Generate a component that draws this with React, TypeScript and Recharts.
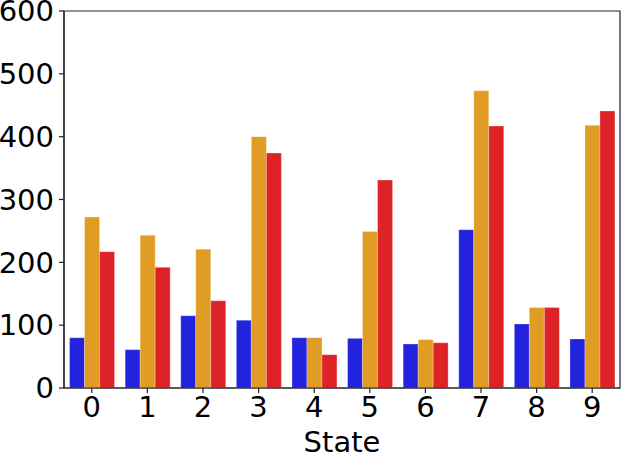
import React from "react";
import { BarChart, Bar, XAxis, YAxis, ReferenceArea } from "recharts";

const states = ["0", "1", "2", "3", "4", "5", "6", "7", "8", "9"];
const blueValues = [80, 61, 115, 108, 80, 79, 70, 252, 102, 78];
const orangeValues = [272, 243, 221, 400, 80, 249, 77, 473, 128, 418];
const redValues = [217, 192, 139, 374, 53, 331, 72, 417, 128, 441];
const yTicks = [0, 100, 200, 300, 400, 500, 600];

const data = states.map((s, i) => ({
  state: s,
  blue: blueValues[i],
  orange: orangeValues[i],
  red: redValues[i],
}));

const FONT = "'DejaVu Sans', sans-serif";
const tickStyle = { fontSize: 29, fill: "#000", fontFamily: FONT };
const spine = { stroke: "#222", strokeWidth: 1.2 };

export default function App() {
  return (
    <div style={{ position: "absolute", left: 0, top: 0, background: "#fff" }}>
      <BarChart
        width={623}
        height={454}
        data={data}
        margin={{ top: 11, right: 3, bottom: 0, left: 0 }}
        barCategoryGap="10%"
        barGap={0}
      >
        <XAxis
          dataKey="state"
          tick={tickStyle}
          tickLine={spine}
          axisLine={spine}
          tickSize={5}
          tickMargin={3}
          height={66}
          interval={0}
          label={{ value: "State", position: "insideBottom", offset: 2, style: { ...tickStyle, textAnchor: "middle" } }}
        />
        <YAxis
          domain={[0, 600]}
          ticks={yTicks}
          tick={tickStyle}
          tickLine={spine}
          axisLine={spine}
          tickSize={5}
          tickMargin={5}
          width={64}
          interval={0}
        />
        <Bar dataKey="blue" fill="#2323DD" stroke="#ffffff" strokeOpacity={0.35} strokeWidth={0.8} isAnimationActive={false} />
        <Bar dataKey="orange" fill="#E09C24" stroke="#ffffff" strokeOpacity={0.35} strokeWidth={0.8} isAnimationActive={false} />
        <Bar dataKey="red" fill="#DE2326" stroke="#ffffff" strokeOpacity={0.35} strokeWidth={0.8} isAnimationActive={false} />
        <ReferenceArea y1={0} y2={600} fill="none" stroke="#222" strokeWidth={1.2} fillOpacity={0} />
      </BarChart>
    </div>
  );
}
